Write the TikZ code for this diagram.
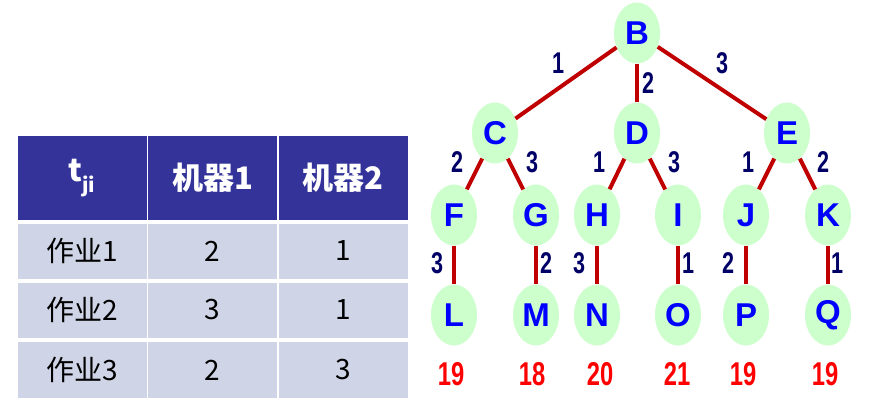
\documentclass[tikz,border=0pt]{standalone}
\usepackage{fontspec}
\setmainfont{Liberation Sans}
\newfontfamily\cjk{Noto Sans CJK SC}
\usetikzlibrary{shapes.geometric}
\definecolor{hdr}{HTML}{333399}
\definecolor{cellc}{HTML}{CFD5E6}
\definecolor{nodeg}{HTML}{CCFFCC}
\definecolor{edgec}{HTML}{C00000}
\definecolor{lblc}{HTML}{000066}
\definecolor{letc}{HTML}{0000FF}
\definecolor{resc}{HTML}{FF0000}
\newcommand\narr[1]{\scalebox{0.72}[1]{#1}}
\tikzset{
  hcell/.style={draw=none, fill=hdr, text=white, inner sep=0pt, minimum width=129pt, minimum height=83pt,
    font=\cjk\bfseries\fontsize{31}{31}\selectfont},
  bcell/.style={draw=none, fill=cellc, text=black, inner sep=0pt, minimum width=129pt, minimum height=55pt,
    font=\cjk\fontsize{28}{28}\selectfont},
  tnode/.style={ellipse, fill=nodeg, draw=none, inner sep=0pt, minimum width=46pt, minimum height=61pt,
    text=letc, font=\bfseries\fontsize{33}{33}\selectfont},
  tedge/.style={draw=edgec, line width=4pt},
  elbl/.style={text=lblc, inner sep=0pt, font=\bfseries\fontsize{30}{30}\selectfont},
  rlbl/.style={text=resc, inner sep=0pt, font=\bfseries\fontsize{33}{33}\selectfont},
}
\begin{document}
\begin{tikzpicture}[x=1pt,y=-1pt]
\useasboundingbox[fill=white] (0,0) rectangle (890,414);
% table
\node[hcell] (h1) at (82,178) {t\raisebox{-0.35em}{\fontsize{20}{20}\selectfont ji}};
\node[hcell] (h2) at (212.5,178) {机器1};
\node[hcell] (h3) at (343,178) {机器2};
\node[bcell] (r11) at (82,251) {作业1};
\node[bcell] (r12) at (212.5,251) {2};
\node[bcell] (r13) at (343,251) {1};
\node[bcell] (r21) at (82,310) {作业2};
\node[bcell] (r22) at (212.5,310) {3};
\node[bcell] (r23) at (343,310) {1};
\node[bcell, minimum height=56pt] (r31) at (82,370) {作业3};
\node[bcell, minimum height=56pt] (r32) at (212.5,370) {2};
\node[bcell, minimum height=56pt] (r33) at (343,370) {3};
% tree nodes
\node[tnode] (B) at (637,33) {B};
\node[tnode] (C) at (495,133) {C};
\node[tnode] (D) at (637,133) {D};
\node[tnode] (E) at (787,133) {E};
\node[tnode] (F) at (454,215) {F};
\node[tnode] (G) at (536,215) {G};
\node[tnode] (H) at (597,215) {H};
\node[tnode] (I) at (678,215) {I};
\node[tnode] (J) at (746,215) {J};
\node[tnode] (K) at (828,215) {K};
\node[tnode] (L) at (454,315) {L};
\node[tnode] (M) at (536,315) {M};
\node[tnode] (N) at (597,315) {N};
\node[tnode] (O) at (678,315) {O};
\node[tnode] (P) at (746,315) {P};
\node[tnode] (Q) at (828,315) {Q};
% edges
\draw[tedge] (B) -- (C);
\draw[tedge] (B) -- (D);
\draw[tedge] (B) -- (E);
\draw[tedge] (C) -- (F);
\draw[tedge] (C) -- (G);
\draw[tedge] (D) -- (H);
\draw[tedge] (D) -- (I);
\draw[tedge] (E) -- (J);
\draw[tedge] (E) -- (K);
\draw[tedge] (F) -- (L);
\draw[tedge] (G) -- (M);
\draw[tedge] (H) -- (N);
\draw[tedge] (I) -- (O);
\draw[tedge] (J) -- (P);
\draw[tedge] (K) -- (Q);
% edge labels
\node[elbl] (lBC) at (558,63) {\narr{1}};
\node[elbl] (lBD) at (648,83) {\narr{2}};
\node[elbl] (lBE) at (722,63) {\narr{3}};
\node[elbl] (lCF) at (457,162) {\narr{2}};
\node[elbl] (lCG) at (532,162) {\narr{3}};
\node[elbl] (lDH) at (599,162) {\narr{1}};
\node[elbl] (lDI) at (674,162) {\narr{3}};
\node[elbl] (lEJ) at (748,162) {\narr{1}};
\node[elbl] (lEK) at (823,162) {\narr{2}};
\node[elbl] (lFL) at (437,263) {\narr{3}};
\node[elbl] (lGM) at (546,263) {\narr{2}};
\node[elbl] (lHN) at (579,263) {\narr{3}};
\node[elbl] (lIO) at (688,263) {\narr{1}};
\node[elbl] (lJP) at (728,263) {\narr{2}};
\node[elbl] (lKQ) at (837,263) {\narr{1}};
% results
\node[rlbl] (vL) at (451,374) {\narr{19}};
\node[rlbl] (vM) at (532,374) {\narr{18}};
\node[rlbl] (vN) at (600,374) {\narr{20}};
\node[rlbl] (vO) at (677,374) {\narr{21}};
\node[rlbl] (vP) at (743,374) {\narr{19}};
\node[rlbl] (vQ) at (825,374) {\narr{19}};
\end{tikzpicture}
\end{document}
